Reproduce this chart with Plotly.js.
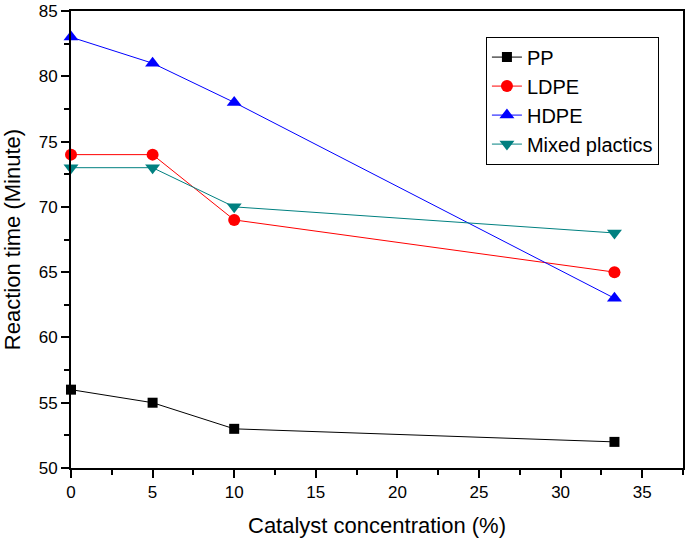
<!DOCTYPE html>
<html>
<head>
<meta charset="utf-8">
<script src="https://cdn.plot.ly/plotly-3.0.1.min.js"></script>
<style>html,body{margin:0;padding:0;background:#fff;}#chart{width:685px;height:538px;}</style>
</head>
<body>
<div id="chart"></div>
<script>
const catalyst = [0, 5, 10, 33.3];
const pp = [56, 55, 53, 52];
const ldpe = [74, 74, 69, 65];
const hdpe = [83, 81, 78, 63];
const mixed = [73, 73, 70, 68];
const names = ["PP", "LDPE", "HDPE", "Mixed plactics"];

const mk = (y, name, color, symbol, size) => ({
  x: catalyst, y: y, name: name, type: 'scatter', mode: 'lines+markers',
  line: {color: color, width: 1},
  marker: {color: color, symbol: symbol, size: size},
  cliponaxis: false
});

const data = [
  mk(pp, names[0], '#000000', 'square', 10),
  mk(ldpe, names[1], '#ff0000', 'circle', 12),
  mk(hdpe, names[2], '#0000ff', 'triangle-up', 13),
  mk(mixed, names[3], '#008080', 'triangle-down', 13)
];

const font = {family: 'Liberation Sans, Arial, sans-serif', color: '#000'};
const layout = {
  width: 685, height: 538,
  margin: {l: 71, r: 2, t: 11, b: 70},
  paper_bgcolor: '#fff', plot_bgcolor: '#fff',
  font: Object.assign({size: 17}, font),
  showlegend: true,
  legend: {
    x: 0.678, y: 0.944, xanchor: 'left', yanchor: 'top',
    bordercolor: '#000', borderwidth: 1, bgcolor: '#fff',
    font: Object.assign({size: 20}, font),
    tracegroupgap: 0
  },
  xaxis: {
    range: [0, 37.5], dtick: 5, tick0: 0,
    showgrid: false, zeroline: false,
    showline: true, linecolor: '#000', linewidth: 2, mirror: true,
    ticks: 'outside', ticklen: 8, tickwidth: 2, tickcolor: '#000',
    minor: {dtick: 2.5, ticks: 'outside', ticklen: 5, tickwidth: 2, tickcolor: '#000'},
    tickfont: Object.assign({size: 17}, font),
    title: {text: 'Catalyst concentration (%)', font: Object.assign({size: 22}, font), standoff: 16}
  },
  yaxis: {
    range: [50, 85], dtick: 5, tick0: 50,
    showgrid: false, zeroline: false,
    showline: true, linecolor: '#000', linewidth: 2, mirror: true,
    ticks: 'outside', ticklen: 8, tickwidth: 2, tickcolor: '#000',
    minor: {dtick: 2.5, ticks: 'outside', ticklen: 5, tickwidth: 2, tickcolor: '#000'},
    tickfont: Object.assign({size: 17}, font),
    title: {text: 'Reaction time (Minute)', font: Object.assign({size: 22}, font), standoff: 14}
  }
};

Plotly.newPlot('chart', data, layout, {displayModeBar: false, staticPlot: true});
</script>
</body>
</html>
